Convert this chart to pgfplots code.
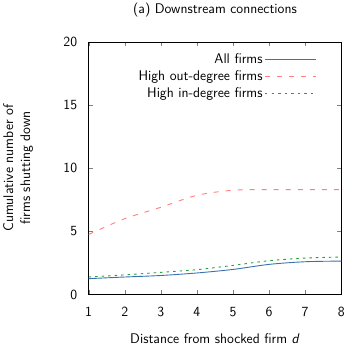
\documentclass[border=0pt]{standalone}
\usepackage{pgfplots}
\pgfplotsset{compat=1.18}
\usetikzlibrary{calc}
\renewcommand{\familydefault}{\sfdefault}
\definecolor{cblue}{HTML}{3A72B0}
\definecolor{cred}{HTML}{FF7F7F}
\definecolor{cgreen}{HTML}{1FA03A}
\newcommand{\fs}{\fontsize{14}{17}\selectfont\sffamily}
\begin{document}
\begin{tikzpicture}
\begin{axis}[
  scale only axis,
  width=252bp, height=252bp,
  xmin=1, xmax=8, ymin=0, ymax=20,
  xtick={1,...,8}, ytick={0,5,10,15,20},
  tick align=inside,
  major tick length=4pt,
  /pgf/number format/assume math mode=true,
  tick label style={font=\fs},
  xticklabel style={yshift=-9bp},
  yticklabel style={xshift=-8bp},
  label style={font=\fs},
  title style={font=\fs, at={(axis description cs:0.5,1)}, anchor=base, yshift=22bp},
  title={(a) Downstream connections},
  xlabel={Distance from shocked firm \textit{d}},
  ylabel={Cumulative number of\\firms shutting down},
  ylabel style={align=center, at={($(axis description cs:0,0.5)+(-52bp,0)$)}, anchor=south},
  xlabel style={at={($(axis description cs:0.5,0)+(0,-36bp)$)}, anchor=north},
  legend style={draw=none, fill=none, at={(0.915,0.97)}, anchor=north east, row sep=1.5pt,
    legend cell align=right, font=\fs},
  legend plot pos=right,
  legend image code/.code={\draw[#1] (0cm,0cm) -- (1.8cm,0cm);},
]
\addplot[color=cblue, line width=0.9pt, smooth] coordinates {(1,1.25) (2,1.38) (3,1.5) (4,1.7) (5,1.98) (6,2.38) (7,2.59) (8,2.64)};
\addlegendentry{All firms\hspace{8bp}}
\addplot[color=cred, line width=0.9pt, dash pattern=on 5bp off 7bp, smooth] coordinates {(1,4.75) (2,6.0) (3,6.9) (4,7.85) (5,8.25) (6,8.3) (7,8.3) (8,8.3)};
\addlegendentry{High out-degree firms\hspace{8bp}}
\addplot[color=cgreen, line width=0.9pt, dash pattern=on 2.5bp off 4bp, smooth] coordinates {(1,1.38) (2,1.55) (3,1.75) (4,1.96) (5,2.3) (6,2.67) (7,2.88) (8,2.96)};
\addlegendentry{High in-degree firms\hspace{8bp}}
\end{axis}
\end{tikzpicture}
\end{document}
